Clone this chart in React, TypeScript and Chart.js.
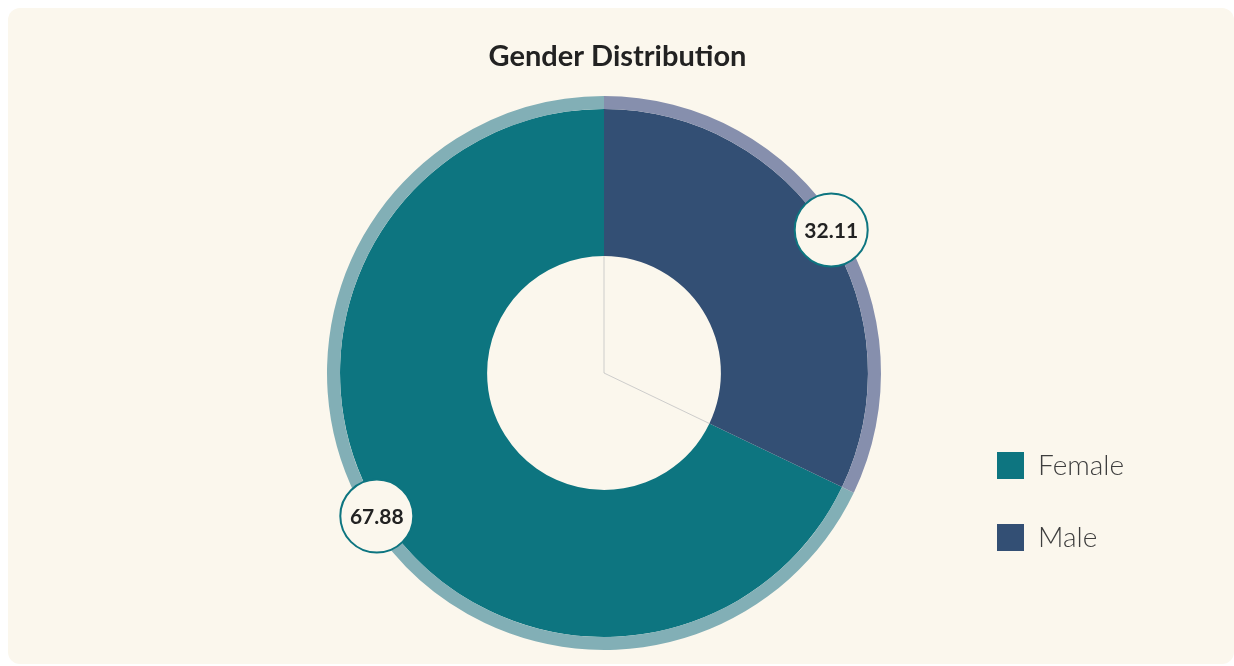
import React, { useEffect, useRef } from 'react';
import { Chart, registerables } from 'chart.js';

Chart.register(...registerables);

const TITLE = 'Gender Distribution';
const categories = ['Female', 'Male'];
const values = [67.88, 32.11];
const mainColors = ['#0D7580', '#334F74'];
const ringColors = ['#82AFB6', '#868FAD'];
const CARD_BG = '#FBF7ED';
const LABEL_BORDER = '#0D7580';

const bubblePlugin = {
  id: 'bubbleLabels',
  afterDatasetsDraw(chart: any) {
    const ctx = chart.ctx;
    const ring = chart.getDatasetMeta(0);
    const main = chart.getDatasetMeta(1);
    ctx.save();
    ctx.strokeStyle = 'rgba(120,125,140,0.35)';
    ctx.lineWidth = 1;
    main.data.forEach((arc: any) => {
      const p = arc.getProps(['x', 'y', 'startAngle', 'innerRadius'], true);
      ctx.beginPath();
      ctx.moveTo(p.x, p.y);
      ctx.lineTo(p.x + Math.cos(p.startAngle) * p.innerRadius, p.y + Math.sin(p.startAngle) * p.innerRadius);
      ctx.stroke();
    });
    ring.data.forEach((arc: any, i: number) => {
      const p = arc.getProps(['x', 'y', 'startAngle', 'endAngle', 'innerRadius', 'outerRadius'], true);
      const mid = (p.startAngle + p.endAngle) / 2;
      const r = p.innerRadius + 4.5;
      const cx = p.x + Math.cos(mid) * r;
      const cy = p.y + Math.sin(mid) * r;
      ctx.beginPath();
      ctx.arc(cx, cy, 36.5, 0, Math.PI * 2);
      ctx.fillStyle = CARD_BG;
      ctx.fill();
      ctx.lineWidth = 2;
      ctx.strokeStyle = LABEL_BORDER;
      ctx.stroke();
      ctx.fillStyle = '#222222';
      ctx.font = 'bold 21px Lato, sans-serif';
      ctx.textAlign = 'center';
      ctx.textBaseline = 'middle';
      ctx.fillText(values[i].toFixed(2), cx, cy + 1);
    });
    ctx.restore();
  },
};

const CANVAS_W = 1226;
const CANVAS_H = 656;
const LEGEND_PAD = 44;

export default function App() {
  const ref = useRef<HTMLCanvasElement>(null);
  useEffect(() => {
    const total = values.reduce((a, b) => a + b, 0);
    const rotation = (values[1] / total) * 360;
    const defaultGen = (Chart as any).overrides.doughnut.plugins.legend.labels.generateLabels;
    const chart: any = new Chart(ref.current as HTMLCanvasElement, {
      type: 'doughnut',
      data: {
        labels: categories,
        datasets: [
          {
            data: values,
            backgroundColor: ringColors,
            borderWidth: 0,
            hoverOffset: 0,
            weight: 13,
          } as any,
          {
            data: values,
            backgroundColor: mainColors,
            borderWidth: 0,
            hoverOffset: 0,
            weight: 147,
          } as any,
        ],
      },
      options: {
        animation: false,
        responsive: false,
        events: [],
        rotation,
        cutout: '42.2%',
        layout: { padding: { top: 18, left: 92, right: 99, bottom: 14 } },
        plugins: {
          tooltip: { enabled: false },
          title: {
            display: true,
            text: TITLE,
            color: '#222222',
            font: { family: 'Lato, sans-serif', size: 29, weight: 'bold' },
            padding: { top: 13.6, bottom: 21.6 },
          },
          subtitle: {
            display: true,
            position: 'left',
            text: ' ',
            color: 'rgba(0,0,0,0)',
            font: { size: 12 },
            padding: { top: 0, bottom: 141.6 },
          },
          legend: {
            position: 'right',
            align: 'start',
            title: {
              display: true,
              text: ' ',
              color: 'rgba(0,0,0,0)',
              font: { size: 12 },
              padding: { top: 0, bottom: 367.1 },
            },
            labels: {
              boxWidth: 27,
              boxHeight: 27,
              padding: LEGEND_PAD,
              color: '#3E3E3E',
              font: { family: 'Lato, sans-serif', size: 28, weight: '300' },
              generateLabels: (c: any) =>
                defaultGen(c).map((item: any, i: number) => ({
                  ...item,
                  fillStyle: mainColors[i],
                  strokeStyle: mainColors[i],
                  lineWidth: 0,
                })),
            },
          },
        },
      } as any,
      plugins: [bubblePlugin],
    });
    // balance the side boxes so the doughnut, title and legend sit where the reference has them
    const legW = chart.legend.width;
    const right = 237 + LEGEND_PAD - legW;
    const left = right - 7;
    const sub = legW - 27;
    chart.options.layout.padding = { top: 18, left, right, bottom: 14 };
    chart.options.plugins.subtitle.padding = { top: 0, bottom: Math.max(sub - 14.4, 0) };
    chart.update();
    return () => chart.destroy();
  }, []);

  return (
    <div
      style={{
        position: 'absolute',
        left: 8,
        top: 8,
        width: CANVAS_W,
        height: CANVAS_H,
        background: CARD_BG,
        borderRadius: 12,
        overflow: 'hidden',
      }}
    >
      <canvas ref={ref} width={CANVAS_W} height={CANVAS_H} style={{ display: 'block' }} />
    </div>
  );
}
